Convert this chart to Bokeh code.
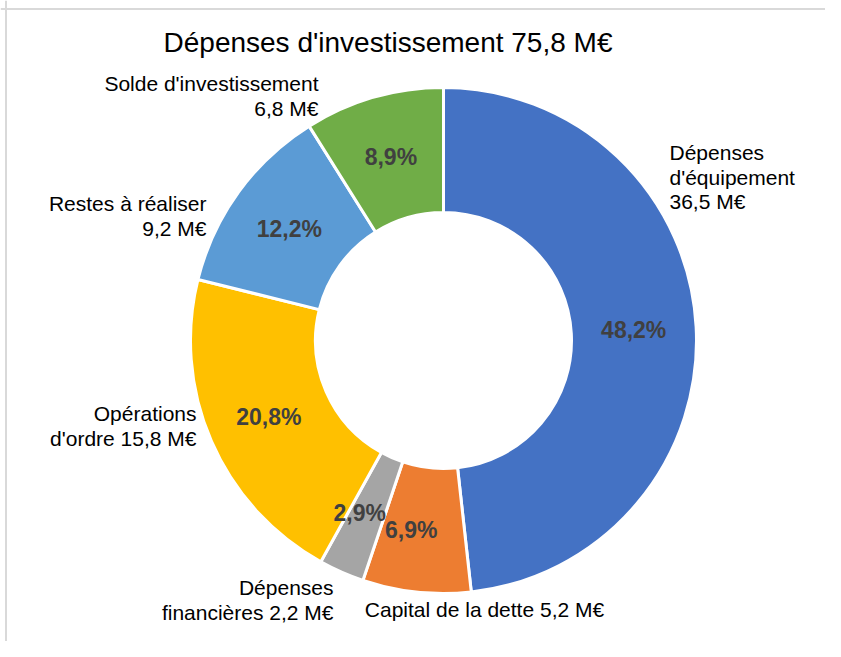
import math
from bokeh.plotting import figure
from bokeh.models import Range1d, Span, ColumnDataSource
from bokeh.core.properties import value
from bokeh.embed import file_html
from bokeh.resources import INLINE

# ---- data ----
title_text = "Dépenses d'investissement 75,8 M€"
categories = ["Dépenses d'équipement", "Capital de la dette", "Dépenses financières",
              "Opérations d'ordre", "Restes à réaliser", "Solde d'investissement"]
amounts = [36.5, 5.2, 2.2, 15.8, 9.2, 6.8]          # M€
percents = [48.2, 6.9, 2.9, 20.8, 12.2, 8.9]        # %
label_lines = [["Dépenses", "d'équipement"], ["Capital de la dette"], ["Dépenses", "financières"],
               ["Opérations", "d'ordre"], ["Restes à réaliser"], ["Solde d'investissement"]]
# whether the amount goes on its own line (True) or appended to the last line
amount_own_line = [True, False, False, False, True, True]

# ---- style / layout ----
colors = ["#4472C4", "#ED7D31", "#A5A5A5", "#FFC000", "#5B9BD5", "#70AD47"]
W, H = 825, 641
def sy(y):  # screen y -> data y
    return H - y

cx, cy = 443, sy(340)
r_out, r_in = 253, 128
FONT = "Liberation Sans"

# category label anchors (screen px): x, first-line y, align
label_anchor = [(669, 152, "left"), (484, 609, "center"), (333, 587, "right"),
                (196, 413, "right"), (206, 203, "right"), (318, 83, "right")]
line_step = 24.5
pct_nudge = [(0, 0), (-12, 0), (-7, -2), (0, 0), (0, 0), (0, 0)]

p = figure(width=W, height=H, output_backend="svg", toolbar_location=None,
           x_range=Range1d(0, W), y_range=Range1d(0, H), min_border=0)
p.axis.visible = False
p.grid.visible = False
p.outline_line_color = None
p.background_fill_color = "white"

# frame lines (top and left)
p.add_layout(Span(location=sy(8.5), dimension="width", line_color="#d9d9d9", line_width=2))
p.add_layout(Span(location=5.5, dimension="height", line_color="#d9d9d9", line_width=2))

tot = sum(percents)
starts, ends, mids = [], [], []
cum = 0.0
for v in percents:
    a0 = math.pi / 2 - 2 * math.pi * cum / tot
    cum += v
    a1 = math.pi / 2 - 2 * math.pi * cum / tot
    starts.append(a0)
    ends.append(a1)
    mids.append((a0 + a1) / 2)

src = ColumnDataSource(dict(start=starts, end=ends, color=colors))
p.annular_wedge(x=cx, y=cy, inner_radius=r_in, outer_radius=r_out,
                start_angle="start", end_angle="end", direction="clock",
                fill_color="color", line_color="white", line_width=3, source=src)

# percentage labels
r_mid = (r_in + r_out) / 2
px = [cx + r_mid * math.cos(m) + d[0] for m, d in zip(mids, pct_nudge)]
py = [cy + r_mid * math.sin(m) - d[1] for m, d in zip(mids, pct_nudge)]
pt = [f"{v:.1f}".replace(".", ",") + "%" for v in percents]
p.text(x=px, y=py, text=pt, text_align="center", text_baseline="middle",
       text_font=value(FONT), text_font_style="bold", text_font_size="23px",
       text_color="#404040")

# category labels
lx, ly, lt, la = [], [], [], []
for lines, amt, own, (ax, ay, al) in zip(label_lines, amounts, amount_own_line, label_anchor):
    amt_s = f"{amt:.1f}".replace(".", ",") + " M€"
    lines = list(lines)
    if own:
        lines.append(amt_s)
    else:
        lines[-1] = lines[-1] + " " + amt_s
    for i, s in enumerate(lines):
        lx.append(ax)
        ly.append(sy(ay + i * line_step))
        lt.append(s)
        la.append(al)
lsrc = ColumnDataSource(dict(x=lx, y=ly, text=lt, align=la))
p.text(x="x", y="y", text="text", text_align="align", text_baseline="middle",
       text_font=value(FONT), text_font_size="21px", text_color="#000000", source=lsrc)

# title
p.text(x=[387.5], y=[sy(42)], text=[title_text], text_align="center", text_baseline="middle",
       text_font=value(FONT), text_font_size="28px", text_color="#000000")

open("out.html", "w").write(file_html(p, INLINE))
